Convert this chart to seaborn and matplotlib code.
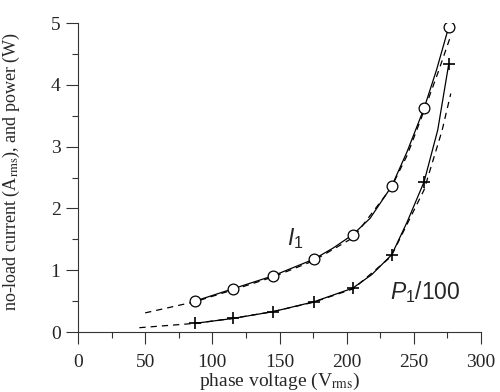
import numpy as np
import pandas as pd
import matplotlib
matplotlib.use("Agg")
import matplotlib.pyplot as plt
import seaborn as sns
from matplotlib.ticker import MultipleLocator

# measured points (phase voltage in V_rms)
v_meas = [87, 115.4, 145.2, 175.7, 204.5, 233.5, 257.6, 276]
i_meas = [0.50, 0.70, 0.91, 1.18, 1.575, 2.36, 3.62, 4.94]
p_meas = [0.14, 0.22, 0.33, 0.49, 0.71, 1.25, 2.43, 4.34]

v_i_solid = [87, 115.4, 145.2, 175.7, 190, 204.5, 217.4, 233.5, 245, 257.6, 267, 276]
i_solid = [0.50, 0.70, 0.91, 1.18, 1.36, 1.575, 1.84, 2.36, 2.92, 3.62, 4.25, 4.94]
v_p_solid = [87, 115.4, 145.2, 175.7, 204.5, 218.7, 233.5, 245, 257.6, 267.8, 276]
p_solid = [0.14, 0.22, 0.33, 0.49, 0.71, 0.93, 1.25, 1.78, 2.43, 3.27, 4.34]

# dashed (calculated) curves
v_i_calc = [50, 87, 115, 145, 175, 205, 233, 245, 257.6, 268, 277.7]
i_calc = [0.31, 0.49, 0.68, 0.89, 1.15, 1.53, 2.33, 2.86, 3.58, 4.2, 4.81]
v_p_calc = [45.7, 87, 115, 145, 175, 205, 233, 257.6, 271, 277.5]
p_calc = [0.07, 0.14, 0.22, 0.33, 0.48, 0.70, 1.22, 2.3, 3.26, 3.86]

sns.set_style("ticks")
plt.rcParams["font.family"] = ["Liberation Serif", "DejaVu Serif"]
plt.rcParams["mathtext.fontset"] = "custom"
plt.rcParams["mathtext.rm"] = "Liberation Sans"
plt.rcParams["mathtext.it"] = "Liberation Sans:italic"

fig = plt.figure(figsize=(5, 3.92), dpi=100)
ax = fig.add_axes([0.156, 0.153, 0.806, 0.788])

lw = 0.9
sns.lineplot(x=v_i_solid, y=i_solid, ax=ax, color="black", lw=lw, sort=False)
sns.lineplot(x=v_p_solid, y=p_solid, ax=ax, color="black", lw=lw, sort=False)
sns.lineplot(x=v_i_calc, y=i_calc, ax=ax, color="black", lw=lw, sort=False,
             linestyle=(0, (5, 4)))
sns.lineplot(x=v_p_calc, y=p_calc, ax=ax, color="black", lw=lw, sort=False,
             linestyle=(0, (5, 4)))

sns.scatterplot(x=v_meas, y=i_meas, ax=ax, marker="o", s=60,
                facecolor="white", edgecolor="black", linewidth=0.9, zorder=5)
sns.scatterplot(x=v_meas, y=p_meas, ax=ax, marker="+", s=80,
                color="black", linewidth=1.2, zorder=5)

ax.text(155.6, 1.41, r"$I_1$", fontsize=16.5, family="Liberation Sans",
        ha="left", va="baseline")
ax.text(232.3, 0.53, r"$P_1$/100", fontsize=16.5, family="Liberation Sans",
        ha="left", va="baseline")

ax.set_xlim(0, 300)
ax.set_ylim(0, 5)
ax.xaxis.set_major_locator(MultipleLocator(50))
ax.xaxis.set_minor_locator(MultipleLocator(25))
ax.yaxis.set_major_locator(MultipleLocator(1))
ax.yaxis.set_minor_locator(MultipleLocator(0.5))
sns.despine(ax=ax)
for s in ["left", "bottom"]:
    ax.spines[s].set_linewidth(0.8)
    ax.spines[s].set_color("#333333")
ax.tick_params(which="major", direction="out", length=8.6, width=0.8,
               color="#333333", labelsize=14, pad=4)
ax.tick_params(which="minor", direction="out", length=4.3, width=0.8,
               color="#333333")
ax.tick_params(axis="x", which="major", pad=7)

ax.set_xlabel(r"phase voltage (V$_{\mathrm{rms}}$)", fontsize=14,
              math_fontfamily="stix")
ax.set_ylabel(r"no-load current (A$_{\mathrm{rms}}$), and power (W)",
              fontsize=13, math_fontfamily="stix")
ax.xaxis.set_label_coords(0.5, -0.125)
ax.yaxis.set_label_coords(-0.14, 0.52)

fig.savefig("out.png", dpi=100)
